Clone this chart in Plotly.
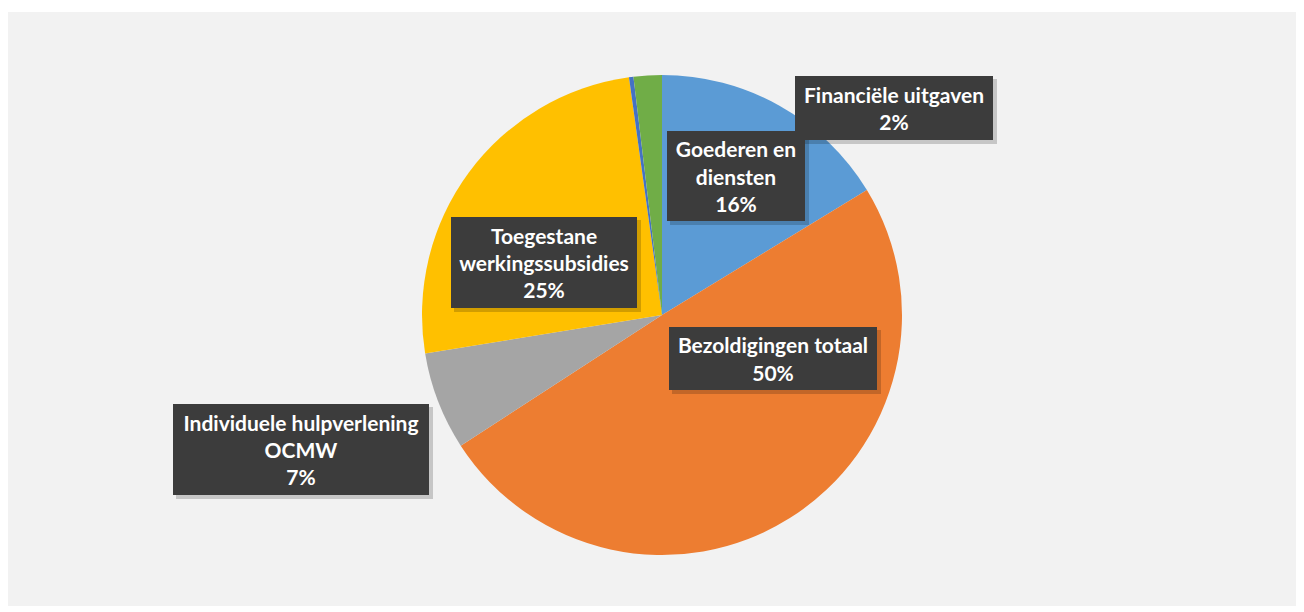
import plotly.graph_objects as go

# ---- data ----
categories = ["Goederen en diensten", "Bezoldigingen totaal", "Individuele hulpverlening OCMW",
              "Toegestane werkingssubsidies", "Overige", "Financiële uitgaven"]
values = [16.3, 49.6, 6.6, 25.4, 0.3, 1.9]
label_text = ["Goederen en<br>diensten", "Bezoldigingen totaal", "Individuele hulpverlening<br>OCMW",
              "Toegestane<br>werkingssubsidies", None, "Financiële uitgaven"]
colors = ["#5B9BD5", "#ED7D31", "#A5A5A5", "#FFC000", "#4472C4", "#70AD47"]

# page has an 8px body margin; figure coordinates = page coordinates - 8
OFF = 8
W, H = 1304 - OFF, 612 - OFF
# label box geometry in page pixels: (left, top, right, bottom)
boxes = [(667, 131, 805, 221), (669, 327, 877, 390), (173, 404, 429, 495),
         (451, 217, 637, 308), None, (795, 76, 993, 140)]


def px(x):
    return (x - OFF) / W


def py(y):
    return 1 - (y - OFF) / H


fig = go.Figure(go.Pie(
    labels=categories, values=values, sort=False, direction="clockwise", rotation=0,
    marker=dict(colors=colors, line=dict(width=0)),
    textinfo="none", hoverinfo="label+percent", showlegend=False,
    domain=dict(x=[px(422), px(902)], y=[py(555), py(75)]),
))

shapes = [dict(type="rect", xref="paper", yref="paper", x0=0, x1=1, y0=py(606), y1=py(12),
               fillcolor="#F2F2F2", line=dict(width=0), layer="below")]
annotations = []
total = sum(values)
for lab, v, b in zip(label_text, values, boxes):
    if lab is None:
        continue
    l, t, r, bt = b
    # shadow
    shapes.append(dict(type="rect", xref="paper", yref="paper",
                       x0=px(l + 3), x1=px(r + 4), y0=py(bt + 4), y1=py(t + 3),
                       fillcolor="rgba(0,0,0,0.18)", line=dict(width=0), layer="above"))
    pct = round(v / total * 100)
    pad = 2
    annotations.append(dict(
        xref="paper", yref="paper", x=px((l + r) / 2), y=py((t + bt) / 2),
        xanchor="center", yanchor="middle", showarrow=False,
        text=f"<b>{lab}<br>{pct}%</b>", align="center",
        font=dict(family="Lato", size=21, color="white"),
        bgcolor="#3C3C3C", borderpad=pad, borderwidth=0,
        width=(r - l) - 2 * pad, height=(bt - t) - 2 * pad,
    ))

fig.update_layout(
    width=W, height=H, margin=dict(l=0, r=0, t=0, b=0),
    paper_bgcolor="white", plot_bgcolor="white",
    shapes=shapes, annotations=annotations,
)
fig.write_html("out.html")
